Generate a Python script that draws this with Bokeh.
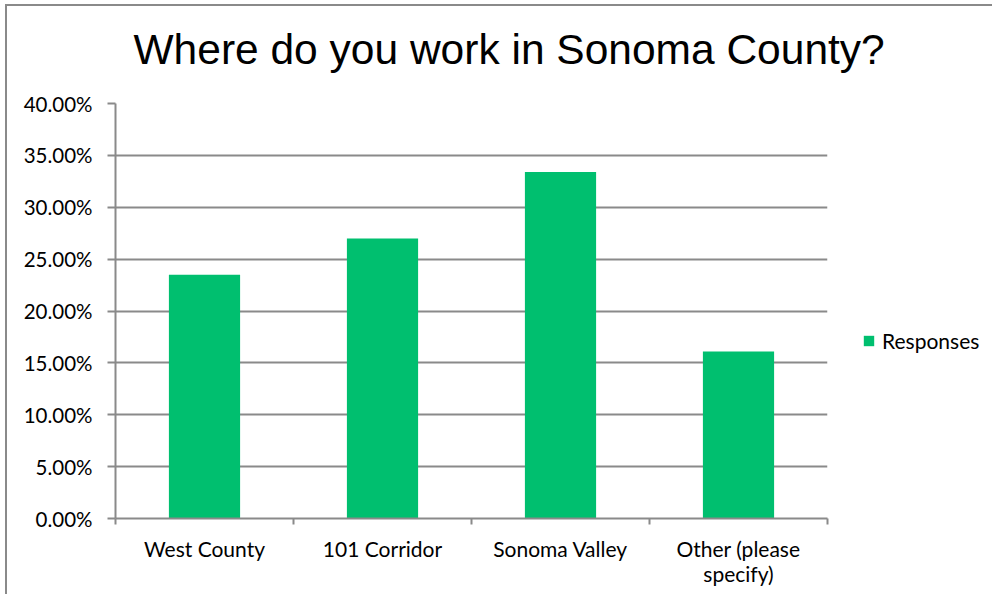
from bokeh.plotting import figure
from bokeh.models import (FixedTicker, Legend, LegendItem, ColumnDataSource, Range1d, Label)
from bokeh.layouts import row, column
from bokeh.embed import file_html
from bokeh.resources import INLINE

# ---- data ----
categories = ["West County", "101 Corridor", "Sonoma Valley", "Other (please\nspecify)"]
responses = [0.235, 0.270, 0.334, 0.161]
series_name = "Responses"
y_ticks = [0.00, 0.05, 0.10, 0.15, 0.20, 0.25, 0.30, 0.35, 0.40]
y_tick_labels = ["0.00%", "5.00%", "10.00%", "15.00%", "20.00%", "25.00%", "30.00%", "35.00%", "40.00%"]
title_text = "Where do you work in Sonoma County?"

# ---- styling ----
GREEN = "#00BF6F"
GRAY = "#8a8a8a"
LABEL_FONT = "Lato"
T = 80          # title strip height
H = 508         # chart height
W1, W2 = 825, 160

x_centers = [i + 0.5 for i in range(len(categories))]
x_bounds = list(range(len(categories) + 1))
src = ColumnDataSource(dict(x=x_centers, top=responses))

# ---- title strip ----
pt = figure(width=W1 + W2, height=T, output_backend="svg", toolbar_location=None,
            x_range=Range1d(0, 1), y_range=Range1d(0, 1),
            x_axis_location=None, y_axis_location=None,
            min_border_left=0, min_border_right=0, min_border_top=0, min_border_bottom=0)
pt.outline_line_color = None
pt.grid.grid_line_color = None
pt.add_layout(Label(x=126, y=37, x_units="screen", y_units="screen", text=title_text,
                    text_font="Liberation Sans", text_font_size="42.5px",
                    text_color="black", text_align="left", text_baseline="alphabetic"))

# ---- main chart ----
p = figure(width=W1, height=H, output_backend="svg", toolbar_location=None,
           x_range=Range1d(0, len(categories)), y_range=Range1d(y_ticks[0], y_ticks[-1]),
           min_border_left=108, min_border_right=5, min_border_top=17, min_border_bottom=76)
p.outline_line_color = None
p.background_fill_color = "white"
p.border_fill_color = "white"

bars = p.vbar(x="x", top="top", width=0.4, source=src, fill_color=GREEN, line_color=None)

p.xgrid.grid_line_color = None
p.ygrid.ticker = FixedTicker(ticks=y_ticks)
p.ygrid.grid_line_color = GRAY
p.ygrid.grid_line_width = 2

ya = p.yaxis[0]
ya.ticker = FixedTicker(ticks=y_ticks)
ya.major_label_overrides = {t: l for t, l in zip(y_ticks, y_tick_labels)}
ya.axis_line_color = GRAY
ya.axis_line_width = 2
ya.major_tick_line_color = GRAY
ya.major_tick_line_width = 2
ya.major_tick_out = 8
ya.major_tick_in = 0
ya.minor_tick_line_color = None
ya.major_label_text_font = LABEL_FONT
ya.major_label_text_font_size = "20.5px"
ya.major_label_text_color = "black"
ya.major_label_standoff = 15

xa = p.xaxis[0]
xa.ticker = FixedTicker(ticks=x_centers, minor_ticks=x_bounds)
xa.major_label_overrides = {c: l for c, l in zip(x_centers, categories)}
xa.axis_line_color = GRAY
xa.axis_line_width = 2
xa.major_tick_line_color = None
xa.minor_tick_line_color = GRAY
xa.minor_tick_line_width = 2
xa.minor_tick_out = 6
xa.minor_tick_in = 0
xa.major_label_text_font = LABEL_FONT
xa.major_label_text_font_size = "21px"
xa.major_label_text_line_height = 1.0
xa.major_label_text_color = "black"
xa.major_label_standoff = 11

# ---- legend panel ----
p2 = figure(width=W2, height=H, output_backend="svg", toolbar_location=None,
            x_range=Range1d(-20, -19), y_range=Range1d(y_ticks[0], y_ticks[-1]),
            x_axis_location=None, y_axis_location=None,
            min_border_left=0, min_border_right=0, min_border_top=0, min_border_bottom=0)
p2.outline_line_color = None
p2.grid.grid_line_color = None
p2.border_fill_color = "white"
legend_bars = p2.vbar(x="x", top="top", width=0.4, source=src, fill_color=GREEN, line_color=None)
legend = Legend(items=[LegendItem(label=series_name, renderers=[legend_bars])],
                location=(30, 165), orientation="vertical",
                glyph_width=13, glyph_height=13, label_standoff=7,
                label_text_font=LABEL_FONT, label_text_font_size="21px",
                label_text_color="black", padding=0, margin=0, spacing=0,
                border_line_color=None, background_fill_alpha=0)
p2.add_layout(legend, "center")

layout = column(pt, row(p, p2, spacing=0), spacing=0)
layout.styles = {"margin-left": "5px", "margin-top": "4px",
                 "border-left": "2px solid " + GRAY, "border-top": "2px solid " + GRAY}

open("out.html", "w").write(file_html(layout, INLINE))
